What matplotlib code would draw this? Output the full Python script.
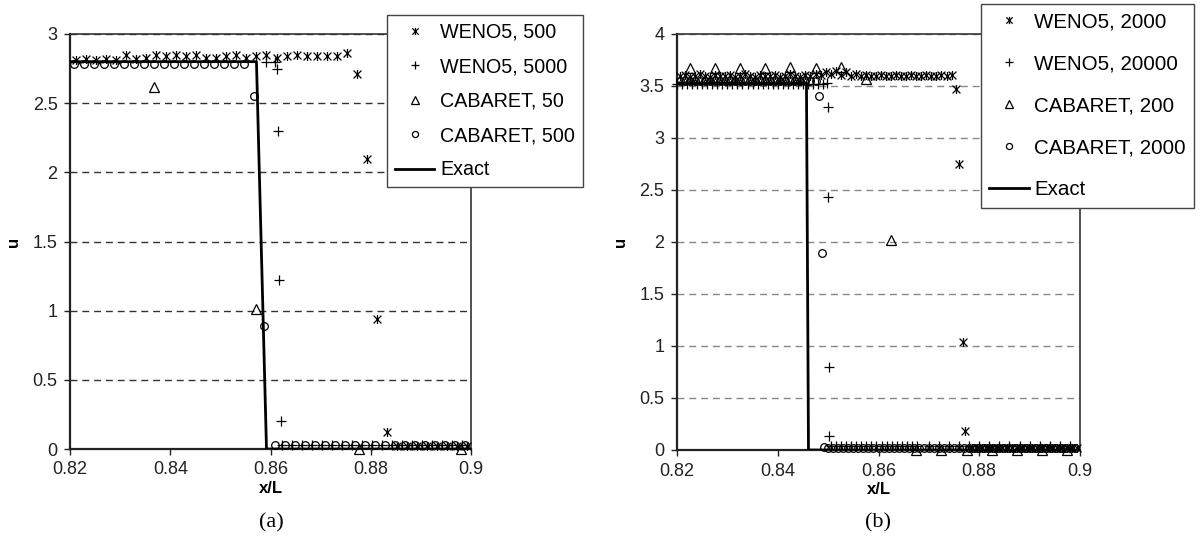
import matplotlib
matplotlib.use('Agg')
import matplotlib.pyplot as plt
from matplotlib.path import Path

plt.rcParams['font.family'] = ['Liberation Sans', 'DejaVu Sans']

# ---------------- data: panel (a) ----------------
a_exact_x = [0.82, 0.8572, 0.8592, 0.90]
a_exact_u = [2.80, 2.80, 0.0, 0.0]

a_w500_x = [0.8212, 0.8232, 0.8252, 0.8272, 0.8292, 0.8312, 0.8332, 0.8352, 0.8372, 0.8392,
            0.8412, 0.8432, 0.8452, 0.8472, 0.8492, 0.8512, 0.8532, 0.8552, 0.8572, 0.8592,
            0.8612, 0.8632, 0.8652, 0.8672, 0.8692, 0.8712, 0.8732, 0.8752,
            0.8772, 0.8792, 0.8812, 0.8832,
            0.8852, 0.8872, 0.8892, 0.8912, 0.8932, 0.8952, 0.8972, 0.8992]
a_w500_u = [2.81, 2.82, 2.81, 2.82, 2.81, 2.85, 2.82, 2.83, 2.85, 2.84,
            2.85, 2.84, 2.85, 2.83, 2.83, 2.84, 2.85, 2.83, 2.84, 2.85,
            2.83, 2.84, 2.85, 2.84, 2.84, 2.84, 2.84, 2.86,
            2.71, 2.10, 0.94, 0.12,
            0.02, 0.02, 0.02, 0.02, 0.02, 0.02, 0.02, 0.02]

a_w5000_x = [0.8592, 0.8609, 0.8612, 0.8614, 0.8616, 0.8620,
             0.8623, 0.8642, 0.8662, 0.8683, 0.8703, 0.8722, 0.8743, 0.8762, 0.8783, 0.8803,
             0.8822, 0.8843, 0.8862, 0.8883, 0.8903, 0.8922, 0.8943, 0.8962, 0.8983]
a_w5000_u = [2.80, 2.80, 2.75, 2.30, 1.22, 0.20,
             0.03, 0.03, 0.03, 0.03, 0.03, 0.03, 0.03, 0.03, 0.03, 0.03,
             0.03, 0.03, 0.03, 0.03, 0.03, 0.03, 0.03, 0.03, 0.03]

a_c50_x = [0.8368, 0.8572, 0.8776, 0.8980]
a_c50_u = [2.62, 1.01, 0.0, 0.0]

a_c500_x = [0.8208, 0.8228, 0.8248, 0.8268, 0.8288, 0.8308, 0.8328, 0.8348, 0.8368, 0.8388,
            0.8408, 0.8428, 0.8448, 0.8468, 0.8488, 0.8508, 0.8528, 0.8548,
            0.8568, 0.8588,
            0.8608, 0.8628, 0.8648, 0.8668, 0.8688, 0.8708, 0.8728, 0.8748, 0.8768, 0.8788,
            0.8808, 0.8828, 0.8848, 0.8868, 0.8888, 0.8908, 0.8928, 0.8948, 0.8968, 0.8988]
a_c500_u = [2.78, 2.78, 2.78, 2.78, 2.78, 2.78, 2.78, 2.78, 2.78, 2.78,
            2.78, 2.78, 2.78, 2.78, 2.78, 2.78, 2.78, 2.78,
            2.55, 0.89,
            0.03, 0.03, 0.03, 0.03, 0.03, 0.03, 0.03, 0.03, 0.03, 0.03,
            0.03, 0.03, 0.03, 0.03, 0.03, 0.03, 0.03, 0.03, 0.03, 0.03]

# ---------------- data: panel (b) ----------------
b_exact_x = [0.82, 0.8457, 0.8461, 0.90]
b_exact_u = [3.53, 3.53, 0.0, 0.0]

b_w2000_x = [0.8205, 0.8215, 0.8225, 0.8235, 0.8245, 0.8255, 0.8265, 0.8275, 0.8285, 0.8295,
             0.8305, 0.8315, 0.8325, 0.8335, 0.8345, 0.8355, 0.8365, 0.8375, 0.8385, 0.8395,
             0.8405, 0.8415, 0.8425, 0.8435, 0.8445, 0.8455, 0.8465, 0.8475, 0.8485, 0.8495,
             0.8505, 0.8515, 0.8525, 0.8535, 0.8545, 0.8555, 0.8565, 0.8575, 0.8585, 0.8595,
             0.8605, 0.8615, 0.8625, 0.8635, 0.8645, 0.8655, 0.8665, 0.8675, 0.8685, 0.8695,
             0.8705, 0.8715, 0.8725, 0.8735, 0.8745,
             0.8754, 0.8760, 0.8767, 0.8772,
             0.8785, 0.8795, 0.8805, 0.8815, 0.8825, 0.8835, 0.8845, 0.8855, 0.8865, 0.8875,
             0.8885, 0.8895, 0.8905, 0.8915, 0.8925, 0.8935, 0.8945, 0.8955, 0.8965, 0.8975,
             0.8985, 0.8995]
b_w2000_u = [3.60, 3.61, 3.59, 3.60, 3.62, 3.60, 3.59, 3.61, 3.60, 3.60,
             3.61, 3.59, 3.60, 3.62, 3.60, 3.59, 3.61, 3.60, 3.60, 3.61,
             3.59, 3.60, 3.62, 3.60, 3.59, 3.61, 3.60, 3.62, 3.61, 3.63,
             3.62, 3.64, 3.61, 3.63, 3.60, 3.62, 3.60, 3.61, 3.60, 3.60,
             3.61, 3.60, 3.60, 3.61, 3.60, 3.60, 3.61, 3.60, 3.60, 3.61,
             3.60, 3.60, 3.61, 3.60, 3.61,
             3.47, 2.75, 1.04, 0.18,
             0.02, 0.02, 0.02, 0.02, 0.02, 0.02, 0.02, 0.02, 0.02, 0.02,
             0.02, 0.02, 0.02, 0.02, 0.02, 0.02, 0.02, 0.02, 0.02, 0.02,
             0.02, 0.02]

b_w20000_x = [0.820, 0.821, 0.822, 0.823, 0.824, 0.825, 0.826, 0.827, 0.828, 0.829,
              0.830, 0.831, 0.832, 0.833, 0.834, 0.835, 0.836, 0.837, 0.838, 0.839,
              0.840, 0.841, 0.842, 0.843, 0.844, 0.845, 0.846, 0.847, 0.848, 0.849,
              0.8498, 0.8499, 0.8500, 0.8501, 0.8502,
              0.8506, 0.8516, 0.8526, 0.8536, 0.8546, 0.8556, 0.8566, 0.8576, 0.8586,
              0.8596, 0.8606, 0.8616, 0.8626, 0.8636, 0.8646, 0.8656, 0.8666, 0.8676,
              0.870, 0.872, 0.874, 0.876, 0.878, 0.880, 0.882, 0.884, 0.886, 0.888,
              0.890, 0.892, 0.894, 0.896, 0.898]
b_w20000_u = [3.52, 3.52, 3.52, 3.52, 3.52, 3.52, 3.52, 3.52, 3.52, 3.52,
              3.52, 3.52, 3.52, 3.52, 3.52, 3.52, 3.52, 3.52, 3.52, 3.52,
              3.52, 3.52, 3.52, 3.52, 3.52, 3.52, 3.52, 3.52, 3.52, 3.52,
              3.53, 3.30, 2.43, 0.80, 0.13,
              0.04, 0.04, 0.04, 0.04, 0.04, 0.04, 0.04, 0.04, 0.04,
              0.04, 0.04, 0.04, 0.04, 0.04, 0.04, 0.04, 0.04, 0.04,
              0.04, 0.04, 0.04, 0.04, 0.04, 0.04, 0.04, 0.04, 0.04, 0.04,
              0.04, 0.04, 0.04, 0.04, 0.04]

b_c200_x = [0.8226, 0.8275, 0.8325, 0.8375, 0.8425, 0.8475, 0.8525, 0.8575,
            0.8625, 0.8675, 0.8725, 0.8775, 0.8825, 0.8875, 0.8925, 0.8975]
b_c200_u = [3.67, 3.67, 3.67, 3.67, 3.68, 3.67, 3.68, 3.57,
            2.02, 0.0, 0.0, 0.0, 0.0, 0.0, 0.0, 0.0]

b_c2000_x = [0.8205, 0.8215, 0.8225, 0.8235, 0.8245, 0.8255, 0.8265, 0.8275, 0.8285, 0.8295,
             0.8305, 0.8315, 0.8325, 0.8335, 0.8345, 0.8355, 0.8365, 0.8375, 0.8385, 0.8395,
             0.8405, 0.8415, 0.8425, 0.8435, 0.8445, 0.8455, 0.8465, 0.8475,
             0.8481, 0.8488, 0.8492,
             0.850, 0.851, 0.852, 0.853, 0.854, 0.855, 0.856, 0.857, 0.858, 0.859,
             0.860, 0.861, 0.862, 0.863, 0.864, 0.865, 0.866, 0.867, 0.868, 0.869,
             0.870, 0.871, 0.872, 0.873, 0.874, 0.875, 0.876, 0.877, 0.878, 0.879,
             0.880, 0.881, 0.882, 0.883, 0.884, 0.885, 0.886, 0.887, 0.888, 0.889,
             0.890, 0.891, 0.892, 0.893, 0.894, 0.895, 0.896, 0.897, 0.898, 0.899]
b_c2000_u = [3.55, 3.55, 3.55, 3.55, 3.55, 3.55, 3.55, 3.55, 3.55, 3.55,
             3.55, 3.55, 3.55, 3.55, 3.55, 3.55, 3.55, 3.55, 3.55, 3.55,
             3.55, 3.55, 3.55, 3.55, 3.55, 3.55, 3.55, 3.55,
             3.40, 1.89, 0.03,
             0.02, 0.02, 0.02, 0.02, 0.02, 0.02, 0.02, 0.02, 0.02, 0.02,
             0.02, 0.02, 0.02, 0.02, 0.02, 0.02, 0.02, 0.02, 0.02, 0.02,
             0.02, 0.02, 0.02, 0.02, 0.02, 0.02, 0.02, 0.02, 0.02, 0.02,
             0.02, 0.02, 0.02, 0.02, 0.02, 0.02, 0.02, 0.02, 0.02, 0.02,
             0.02, 0.02, 0.02, 0.02, 0.02, 0.02, 0.02, 0.02, 0.02, 0.02]

x_ticks = [0.82, 0.84, 0.86, 0.88, 0.9]
x_tick_labels = ['0.82', '0.84', '0.86', '0.88', '0.9']
a_y_ticks = [0, 0.5, 1, 1.5, 2, 2.5, 3]
a_y_labels = ['0', '0.5', '1', '1.5', '2', '2.5', '3']
b_y_ticks = [0, 0.5, 1, 1.5, 2, 2.5, 3, 3.5, 4]
b_y_labels = ['0', '0.5', '1', '1.5', '2', '2.5', '3', '3.5', '4']

a_labels = ['WENO5, 500', 'WENO5, 5000', 'CABARET, 50', 'CABARET, 500', 'Exact']
b_labels = ['WENO5, 2000', 'WENO5, 20000', 'CABARET, 200', 'CABARET, 2000', 'Exact']

# ---------------- styling ----------------
ast = Path([(-1, -1), (1, 1), (-1, 1), (1, -1), (0, -1.15), (0, 1.15)],
           [Path.MOVETO, Path.LINETO, Path.MOVETO, Path.LINETO, Path.MOVETO, Path.LINETO])

W, H = 1201, 541
fig = plt.figure(figsize=(W / 100, H / 100), dpi=100)

ax_a = fig.add_axes([70 / W, 1 - 449 / H, 401 / W, 415 / H])
ax_b = fig.add_axes([677 / W, 1 - 450 / H, 403 / W, 416 / H])

mk = dict(linestyle='none', color='black', markerfacecolor='none', clip_on=False, zorder=4)


def draw(ax, series, exact_x, exact_u, ylim, yticks, ylabels, grid_color, labels,
         leg_anchor, leg_fs, leg_spacing, hlen, hpad):
    handles = []
    for (x, u, m, ms) in series:
        h, = ax.plot(x, u, marker=m, markersize=ms, markeredgewidth=0.9, **mk)
        handles.append(h)
    he, = ax.plot(exact_x, exact_u, color='black', linewidth=2.0, zorder=5)
    handles.append(he)
    ax.set_xlim(0.82, 0.9)
    ax.set_ylim(*ylim)
    ax.set_xticks(x_ticks)
    ax.set_xticklabels(x_tick_labels)
    ax.set_yticks(yticks)
    ax.set_yticklabels(ylabels)
    ax.tick_params(direction='out', length=4, width=1.0, labelsize=13, colors='#222222', pad=5)
    ax.yaxis.grid(True, linestyle=(0, (5, 3.5)), color=grid_color, linewidth=1.0)
    ax.set_axisbelow(True)
    for s in ['left', 'bottom']:
        ax.spines[s].set_linewidth(1.6)
        ax.spines[s].set_color('#222222')
    for s in ['top', 'right']:
        ax.spines[s].set_linewidth(1.2)
        ax.spines[s].set_color('#333333')
    ax.set_xlabel('x/L', fontsize=12, fontweight='bold', labelpad=2)
    ax.set_ylabel('u', fontsize=12, fontweight='bold', labelpad=8)
    leg = ax.legend(handles, labels, loc='upper left', bbox_to_anchor=leg_anchor,
                    bbox_transform=fig.transFigure, borderaxespad=0, fontsize=leg_fs,
                    frameon=True, fancybox=False, edgecolor='#444444', framealpha=1,
                    handlelength=hlen, handletextpad=hpad, borderpad=0.4,
                    labelspacing=leg_spacing, markerscale=0.8)
    leg.get_frame().set_linewidth(1.0)
    leg.set_zorder(10)
    return leg


draw(ax_a,
     [(a_w500_x, a_w500_u, ast, 6.5),
      (a_w5000_x, a_w5000_u, '+', 7),
      (a_c50_x, a_c50_u, '^', 6.5),
      (a_c500_x, a_c500_u, 'o', 5.5)],
     a_exact_x, a_exact_u, (0, 3), a_y_ticks, a_y_labels, '#333333', a_labels,
     (387 / W, 1 - 15 / H), 14.2, 0.78, 2.0, 0.3)

draw(ax_b,
     [(b_w2000_x, b_w2000_u, ast, 6.5),
      (b_w20000_x, b_w20000_u, '+', 7),
      (b_c200_x, b_c200_u, '^', 6.5),
      (b_c2000_x, b_c2000_u, 'o', 5.5)],
     b_exact_x, b_exact_u, (0, 4), b_y_ticks, b_y_labels, '#888888', b_labels,
     (981 / W, 1 - 4 / H), 14.8, 1.12, 1.95, 0.25)

fig.text(271 / W, 1 - 523 / H, '(a)', ha='center', va='center', fontsize=16,
         family=['Liberation Serif', 'DejaVu Serif'])
fig.text(878 / W, 1 - 523 / H, '(b)', ha='center', va='center', fontsize=16,
         family=['Liberation Serif', 'DejaVu Serif'])

fig.savefig('out.png', dpi=100)
